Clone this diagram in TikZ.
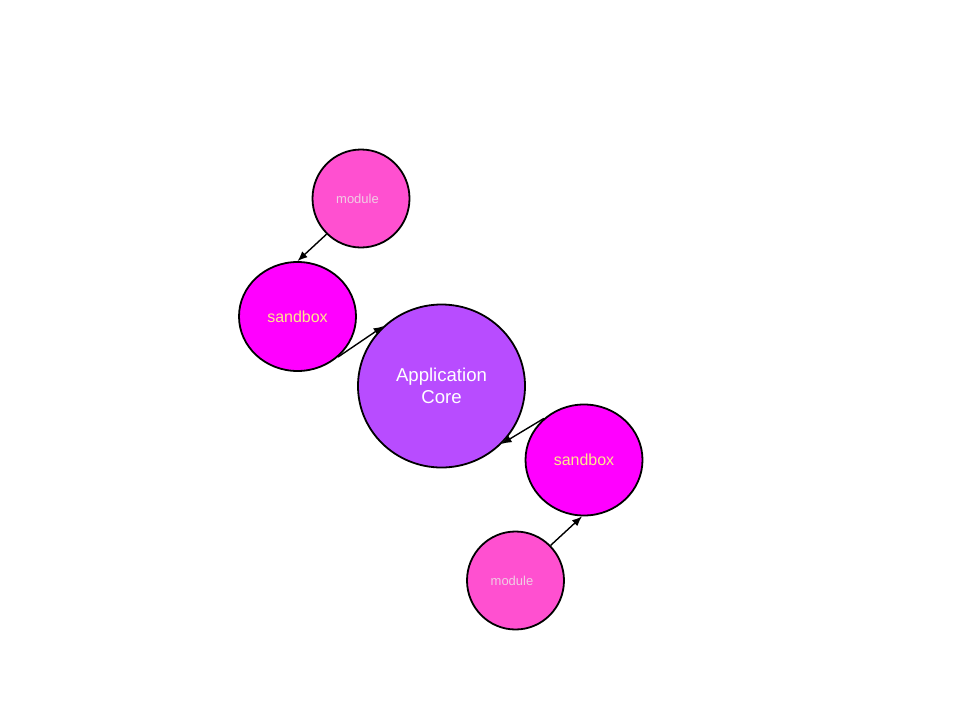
\documentclass[tikz,border=0pt]{standalone}
\usepackage{fontspec}
\setmainfont{Liberation Sans}
\usetikzlibrary{shapes.geometric,arrows.meta}
\definecolor{modfill}{RGB}{255,80,208}
\definecolor{sbfill}{RGB}{255,0,255}
\definecolor{corefill}{RGB}{184,76,255}
\definecolor{modtext}{RGB}{240,205,228}
\definecolor{sbtext}{RGB}{255,230,140}
\tikzset{
  x=1pt, y=-1pt,
  blob/.style={ellipse, draw=black, line width=1.8pt, inner sep=0pt},
  modulenode/.style={blob, fill=modfill, minimum width=97pt, minimum height=98pt,
    text=modtext, font=\fontsize{13}{15}\selectfont},
  sandboxnode/.style={blob, fill=sbfill, minimum width=117pt, minimum height=109pt,
    text=sbtext, font=\fontsize{16}{18}\selectfont},
  corenode/.style={blob, fill=corefill, minimum width=167pt, minimum height=163pt,
    text=white, font=\fontsize{18.6}{22}\selectfont, align=center},
  link/.style={line width=1.4pt, -{Latex[length=10pt,width=8pt]}}
}
% module labels sit a little left of their circle's centre
\newcommand{\modlabel}{module\hspace*{7pt}}
\begin{document}
\begin{tikzpicture}
\useasboundingbox (0,0) rectangle (960,720);
\node[modulenode] (modA) at (361,198.5) {\modlabel};
\node[sandboxnode] (sbA) at (297.5,316.5) {sandbox};
\node[corenode] (core) at (441.5,386) {Application\\Core};
\node[sandboxnode, minimum height=111pt] (sbB) at (584,460) {sandbox};
\node[modulenode] (modB) at (515.5,580.5) {\modlabel};
\draw[link] (modA.226) -- (sbA.90);
\draw[link] (sbA.315) -- (core.134);
\draw[link] (sbB.134) -- (core.316);
\draw[link] (modB.45) -- (sbB.268);
\end{tikzpicture}
\end{document}
